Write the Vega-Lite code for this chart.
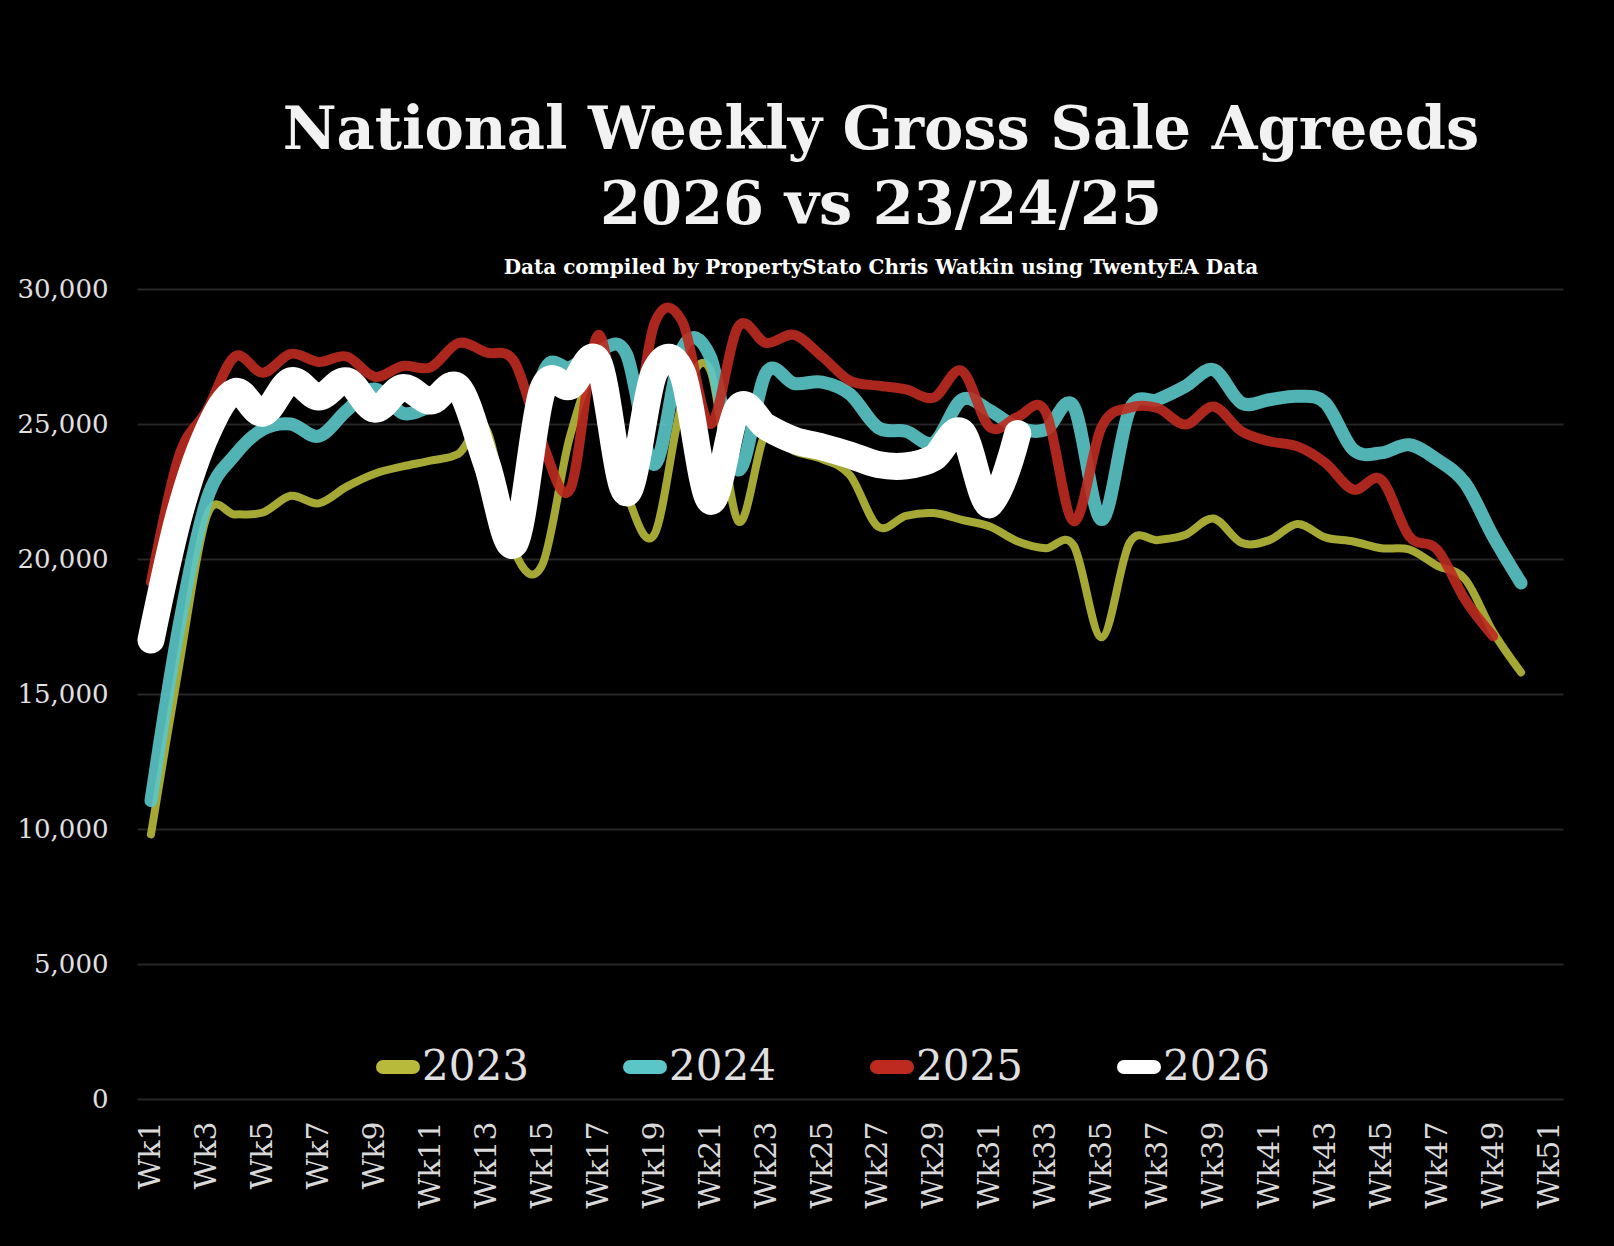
{
  "$schema": "https://vega.github.io/schema/vega-lite/v6.json",
  "width": 1426,
  "height": 810,
  "autosize": {"type": "none"},
  "padding": {"left": 137, "top": 289, "right": 51, "bottom": 147},
  "background": "#000000",
  "title": {
    "text": ["National Weekly Gross Sale Agreeds", "2026 vs 23/24/25"],
    "subtitle": "Data compiled by PropertyStato Chris Watkin using TwentyEA Data",
    "anchor": "middle",
    "frame": "group",
    "dx": 31,
    "offset": -2,
    "font": "DejaVu Serif",
    "fontWeight": "bold",
    "fontSize": 59,
    "lineHeight": 75,
    "color": "#f2f2f2",
    "subtitleFont": "DejaVu Serif",
    "subtitleFontWeight": "bold",
    "subtitleFontSize": 20,
    "subtitleColor": "#ffffff",
    "subtitlePadding": 22
  },
  "data": {
    "values": [
      {"week": "Wk1", "2023": 9800, "2024": 11050, "2025": 19150, "2026": 17000},
      {"week": "Wk2", "2023": 16000, "2024": 17500, "2025": 23800, "2026": 21600},
      {"week": "Wk3", "2023": 21600, "2024": 22200, "2025": 25500, "2026": 24650},
      {"week": "Wk4", "2023": 21650, "2024": 23850, "2025": 27500, "2026": 26200},
      {"week": "Wk5", "2023": 21720, "2024": 24800, "2025": 26900, "2026": 25400},
      {"week": "Wk6", "2023": 22340, "2024": 25000, "2025": 27600, "2026": 26600},
      {"week": "Wk7", "2023": 22060, "2024": 24550, "2025": 27300, "2026": 26000},
      {"week": "Wk8", "2023": 22680, "2024": 25500, "2025": 27500, "2026": 26600},
      {"week": "Wk9", "2023": 23160, "2024": 26300, "2025": 26750, "2026": 25550},
      {"week": "Wk10", "2023": 23430, "2024": 25400, "2025": 27150, "2026": 26350},
      {"week": "Wk11", "2023": 23640, "2024": 25650, "2025": 27100, "2026": 25850},
      {"week": "Wk12", "2023": 23900, "2024": 26000, "2025": 28000, "2026": 26350},
      {"week": "Wk13", "2023": 24800, "2024": 24000, "2025": 27650, "2026": 23550},
      {"week": "Wk14", "2023": 20300, "2024": 21000, "2025": 27300, "2026": 20550},
      {"week": "Wk15", "2023": 19800, "2024": 26800, "2025": 24300, "2026": 26250},
      {"week": "Wk16", "2023": 24600, "2024": 27100, "2025": 22600, "2026": 26400},
      {"week": "Wk17", "2023": 26800, "2024": 27700, "2025": 28300, "2026": 27300},
      {"week": "Wk18", "2023": 22500, "2024": 27600, "2025": 23500, "2026": 22450},
      {"week": "Wk19", "2023": 20900, "2024": 23500, "2025": 28700, "2026": 26900},
      {"week": "Wk20", "2023": 25800, "2024": 27800, "2025": 28800, "2026": 26900},
      {"week": "Wk21", "2023": 27000, "2024": 27500, "2025": 25000, "2026": 22150},
      {"week": "Wk22", "2023": 21400, "2024": 23300, "2025": 28600, "2026": 25600},
      {"week": "Wk23", "2023": 24700, "2024": 26900, "2025": 28000, "2026": 24900},
      {"week": "Wk24", "2023": 24000, "2024": 26500, "2025": 28300, "2026": 24400},
      {"week": "Wk25", "2023": 23700, "2024": 26550, "2025": 27500, "2026": 24150},
      {"week": "Wk26", "2023": 23100, "2024": 26100, "2025": 26600, "2026": 23850},
      {"week": "Wk27", "2023": 21200, "2024": 24870, "2025": 26420, "2026": 23500},
      {"week": "Wk28", "2023": 21600, "2024": 24730, "2025": 26280, "2026": 23450},
      {"week": "Wk29", "2023": 21700, "2024": 24320, "2025": 25980, "2026": 23750},
      {"week": "Wk30", "2023": 21450, "2024": 25900, "2025": 26970, "2026": 24700},
      {"week": "Wk31", "2023": 21200, "2024": 25500, "2025": 24880, "2026": 22000},
      {"week": "Wk32", "2023": 20650, "2024": 24870, "2025": 25270, "2026": 24650},
      {"week": "Wk33", "2023": 20400, "2024": 24790, "2025": 25450},
      {"week": "Wk34", "2023": 20500, "2024": 25650, "2025": 21400},
      {"week": "Wk35", "2023": 17100, "2024": 21460, "2025": 24900},
      {"week": "Wk36", "2023": 20600, "2024": 25530, "2025": 25600},
      {"week": "Wk37", "2023": 20700, "2024": 25900, "2025": 25590},
      {"week": "Wk38", "2023": 20900, "2024": 26400, "2025": 24980},
      {"week": "Wk39", "2023": 21500, "2024": 27010, "2025": 25650},
      {"week": "Wk40", "2023": 20600, "2024": 25780, "2025": 24730},
      {"week": "Wk41", "2023": 20700, "2024": 25900, "2025": 24360},
      {"week": "Wk42", "2023": 21300, "2024": 26030, "2025": 24170},
      {"week": "Wk43", "2023": 20800, "2024": 25780, "2025": 23560},
      {"week": "Wk44", "2023": 20650, "2024": 24050, "2025": 22570},
      {"week": "Wk45", "2023": 20400, "2024": 23930, "2025": 22940},
      {"week": "Wk46", "2023": 20350, "2024": 24230, "2025": 20840},
      {"week": "Wk47", "2023": 19750, "2024": 23680, "2025": 20350},
      {"week": "Wk48", "2023": 19250, "2024": 22810, "2025": 18490},
      {"week": "Wk49", "2023": 17300, "2024": 20840, "2025": 17140},
      {"week": "Wk50", "2023": 15800, "2024": 19110}
    ]
  },
  "transform": [{"fold": ["2023", "2024", "2025", "2026"], "as": ["year", "value"]}],
  "encoding": {
    "x": {
      "field": "week",
      "type": "ordinal",
      "scale": {
        "type": "point",
        "padding": 0.5,
        "domain": ["Wk1","Wk2","Wk3","Wk4","Wk5","Wk6","Wk7","Wk8","Wk9","Wk10","Wk11","Wk12","Wk13","Wk14","Wk15","Wk16","Wk17","Wk18","Wk19","Wk20","Wk21","Wk22","Wk23","Wk24","Wk25","Wk26","Wk27","Wk28","Wk29","Wk30","Wk31","Wk32","Wk33","Wk34","Wk35","Wk36","Wk37","Wk38","Wk39","Wk40","Wk41","Wk42","Wk43","Wk44","Wk45","Wk46","Wk47","Wk48","Wk49","Wk50","Wk51"]
      },
      "axis": {
        "values": ["Wk1","Wk3","Wk5","Wk7","Wk9","Wk11","Wk13","Wk15","Wk17","Wk19","Wk21","Wk23","Wk25","Wk27","Wk29","Wk31","Wk33","Wk35","Wk37","Wk39","Wk41","Wk43","Wk45","Wk47","Wk49","Wk51"],
        "labelAngle": -90,
        "labelFont": "DejaVu Serif",
        "labelFontSize": 30,
        "labelColor": "#d9d9d9",
        "labelPadding": 22,
        "ticks": false,
        "domain": false,
        "grid": false,
        "title": null
      }
    },
    "y": {
      "field": "value",
      "type": "quantitative",
      "scale": {"domain": [0, 30000]},
      "axis": {
        "values": [0, 5000, 10000, 15000, 20000, 25000, 30000],
        "format": ",.0f",
        "labelFont": "DejaVu Serif",
        "labelFontSize": 26,
        "labelColor": "#e0e0e0",
        "labelPadding": 29,
        "ticks": false,
        "domain": false,
        "grid": true,
        "gridColor": "#262626",
        "gridWidth": 2,
        "title": null
      }
    },
    "color": {
      "field": "year",
      "type": "nominal",
      "scale": {"domain": ["2023", "2024", "2025", "2026"], "range": ["#B8BA3B", "#5BC6C8", "#BE2A1F", "#FFFFFF"]},
      "legend": {
        "orient": "none",
        "legendX": 239,
        "legendY": 756,
        "direction": "horizontal",
        "columns": 4,
        "title": null,
        "symbolType": "stroke",
        "symbolSize": 900,
        "symbolStrokeWidth": 14,
        "labelFont": "DejaVu Serif",
        "labelFontSize": 42,
        "labelColor": "#e0e0e0",
        "labelOffset": 2,
        "columnPadding": 73,
        "symbolOpacity": 1,
        "encode": {
          "symbols": {
            "update": {
              "strokeWidth": {"value": 14},
              "strokeCap": {"value": "round"},
              "opacity": {"value": 1}
            }
          }
        }
      }
    }
  },
  "layer": [
    {
      "transform": [{"filter": "datum.year == '2023'"}],
      "mark": {"type": "line", "interpolate": "cardinal", "tension": 0, "strokeCap": "round", "strokeJoin": "round", "strokeWidth": 8, "opacity": 0.9}
    },
    {
      "transform": [{"filter": "datum.year == '2024'"}],
      "mark": {"type": "line", "interpolate": "cardinal", "tension": 0, "strokeCap": "round", "strokeJoin": "round", "strokeWidth": 13, "opacity": 0.9}
    },
    {
      "transform": [{"filter": "datum.year == '2025'"}],
      "mark": {"type": "line", "interpolate": "cardinal", "tension": 0, "strokeCap": "round", "strokeJoin": "round", "strokeWidth": 10, "opacity": 0.9}
    },
    {
      "transform": [{"filter": "datum.year == '2026'"}],
      "mark": {"type": "line", "interpolate": "cardinal", "tension": 0, "strokeCap": "round", "strokeJoin": "round", "strokeWidth": 27, "opacity": 1}
    }
  ],
  "config": {"view": {"stroke": null}}
}
